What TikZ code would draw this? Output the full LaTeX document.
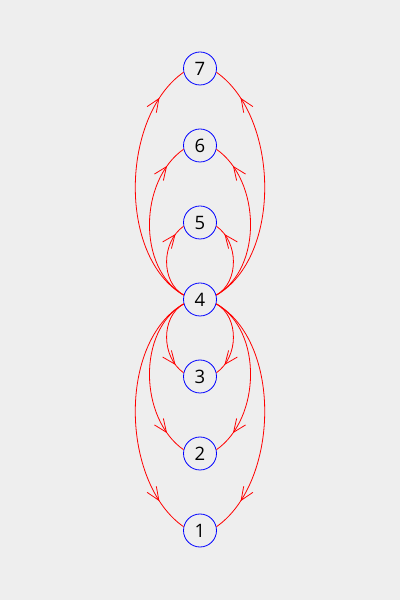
\documentclass[tikz,border=0pt]{standalone}
\usepackage{fontspec}
\setmainfont{Open Sans}
\usetikzlibrary{arrows.meta,decorations.markings}
\definecolor{bg}{RGB}{238,238,238}
\begin{document}
\begin{tikzpicture}[x=1pt,y=1pt,
  vtx/.style={circle,draw=blue,line width=0.8pt,minimum size=33pt,inner sep=0pt,font=\fontsize{18.5}{19}\selectfont},
  edge/.style={draw=red,line width=0.8pt,postaction={decorate},
    decoration={markings,mark=at position 0.86 with {\arrow{Straight Barb[length=13pt,width=11pt,line width=0.8pt]}}}}]
\fill[bg] (0,0) rectangle (400,600);
\useasboundingbox (0,0) rectangle (400,600);
\node[vtx] (n7) at (200,531.5) {7};
\node[vtx] (n6) at (200,454.5) {6};
\node[vtx] (n5) at (200,377.5) {5};
\node[vtx] (n4) at (200,300.5) {4};
\node[vtx] (n3) at (200,223.5) {3};
\node[vtx] (n2) at (200,146.5) {2};
\node[vtx] (n1) at (200,69.5) {1};
\foreach \t/\l in {n7/0.88,n6/0.95,n5/1}{
  \path[edge] (n4.165) to[out=150,in=215,looseness=\l] (\t.193);
  \path[edge] (n4.15) to[out=30,in=-35,looseness=\l] (\t.-13);
}
\foreach \t/\l in {n3/1,n2/0.95,n1/0.88}{
  \path[edge] (n4.195) to[out=210,in=145,looseness=\l] (\t.167);
  \path[edge] (n4.-15) to[out=-30,in=35,looseness=\l] (\t.13);
}
\end{tikzpicture}
\end{document}
